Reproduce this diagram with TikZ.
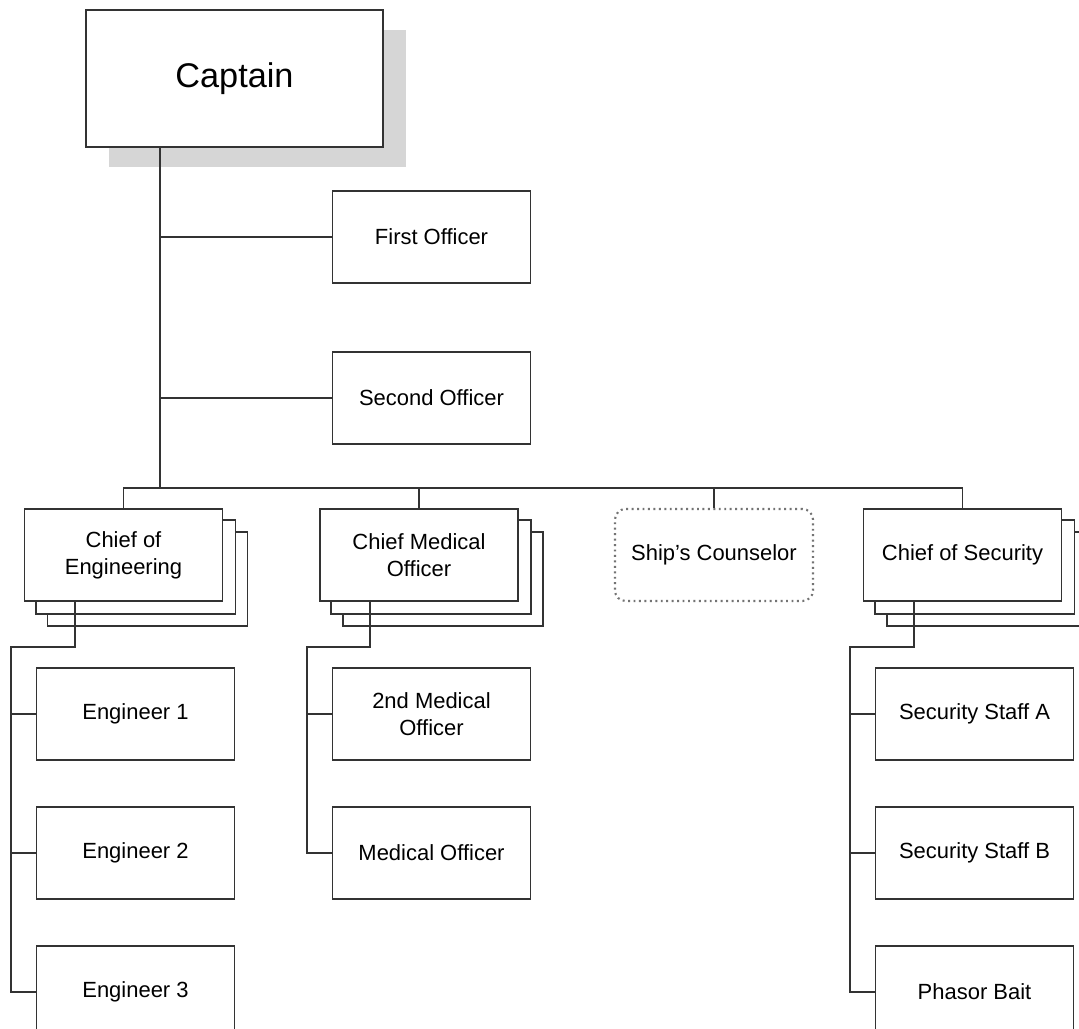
\documentclass[tikz,border=0pt]{standalone}
\usepackage{fontspec}
\setmainfont{Liberation Sans}
\usetikzlibrary{positioning, shadows, backgrounds}

\tikzset{
  post/.style={draw=black!80, line width=1.1pt, fill=white, minimum width=3.96cm,
    minimum height=1.84cm, align=center, inner sep=0pt,
    font=\fontsize{12.5}{15.3}\selectfont},
  captainbox/.style={post, minimum width=5.94cm, minimum height=2.74cm,
    font=\fontsize{19.5}{23}\selectfont,
    drop shadow={shadow xshift=0.46cm, shadow yshift=-0.4cm, fill=black!16, opacity=1}},
  counselorbox/.style={post, draw=black!55, dotted, line width=1.2pt, rounded corners=6pt},
  link/.style={draw=black!80, line width=1.1pt}
}

\begin{document}
\begin{tikzpicture}
  \useasboundingbox (0,0) rectangle (21.58,-20.58);

  % command
  \node[captainbox] (Captain) at (4.69,-1.57) {Captain};
  \node[post] (First) at (8.63,-4.74) {First Officer};
  \node[post] (Second) [below=1.34cm of First] {Second Officer};

  % department heads
  \node[post] (ChiefEng) at (2.47,-11.1) {Chief of\\Engineering};
  \node[post] (ChiefMed) at (8.38,-11.1) {Chief Medical\\Officer};
  \node[counselorbox] (Counselor) at (14.28,-11.1) {Ship's Counselor};
  \node[post] (ChiefSec) at (19.25,-11.1) {Chief of Security};

  % staff
  \node[post] (Eng1) at (2.71,-14.28) {Engineer 1};
  \node[post] (Eng2) [below=0.9cm of Eng1] {Engineer 2};
  \node[post] (Eng3) [below=0.9cm of Eng2] {Engineer 3};
  \node[post] (MedA) at (8.63,-14.28) {2nd Medical\\Officer};
  \node[post] (MedB) [below=0.9cm of MedA] {Medical Officer};
  \node[post] (SecA) at (19.49,-14.28) {Security Staff A};
  \node[post] (SecB) [below=0.9cm of SecA] {Security Staff B};
  \node[post] (SecC) [below=0.9cm of SecB] {Phasor Bait};

  % stacked sheets behind the heads
  \begin{scope}[on background layer]
    \foreach \n in {ChiefEng, ChiefMed, ChiefSec}
      \foreach \s in {0.48, 0.24}
        \draw[post] ([shift={(\s,-\s)}]\n.north west) rectangle ([shift={(\s,-\s)}]\n.south east);
  \end{scope}

  % captain's line
  \coordinate (trunk) at (3.2,-9.76);
  \draw[link] (Captain.south -| trunk) -- (trunk);
  \draw[link] (trunk |- First.west) -- (First.west);
  \draw[link] (trunk |- Second.west) -- (Second.west);
  \draw[link] (ChiefEng.north) |- (ChiefSec.north |- trunk) -- (ChiefSec.north);
  \draw[link] (ChiefMed.north) -- (ChiefMed.north |- trunk);
  \draw[link] (Counselor.north) -- (Counselor.north |- trunk);

  % department lines
  \draw[link] ([xshift=1.02cm]ChiefEng.south west) -- ++(0,-0.9) -| ([xshift=-0.5cm]Eng3.west) -- (Eng3.west);
  \draw[link] ([xshift=1.02cm]ChiefMed.south west) -- ++(0,-0.9) -| ([xshift=-0.5cm]MedB.west) -- (MedB.west);
  \draw[link] ([xshift=1.02cm]ChiefSec.south west) -- ++(0,-0.9) -| ([xshift=-0.5cm]SecC.west) -- (SecC.west);
  \foreach \n in {Eng1, Eng2, MedA, SecA, SecB}
    \draw[link] ([xshift=-0.5cm]\n.west) -- (\n.west);
\end{tikzpicture}
\end{document}
